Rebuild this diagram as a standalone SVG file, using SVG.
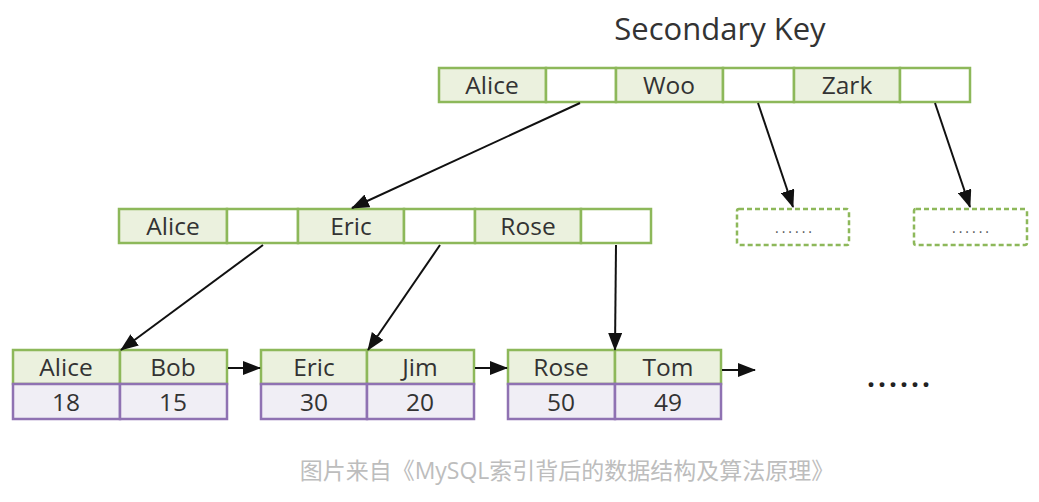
<svg xmlns="http://www.w3.org/2000/svg" width="1039" height="502" viewBox="0 0 1039 502">
<defs>
<style>
.k{fill:#ebf1de;stroke:#8db85a;stroke-width:2.5}
.p{fill:#ffffff;stroke:#8db85a;stroke-width:2.5}
.v{fill:#f0eef5;stroke:#8f72b2;stroke-width:2.5}
.d{fill:#ffffff;stroke:#8db85a;stroke-width:2.5;stroke-dasharray:5 3}
.t{font-family:"Open Sans","Noto Sans",sans-serif;font-size:24.5px;fill:#333;text-anchor:middle;dominant-baseline:central}
.c{stroke:#111;stroke-width:2;fill:none;marker-end:url(#ah)}
.s{font-family:"Open Sans",sans-serif;font-size:14px;fill:#555;text-anchor:middle;letter-spacing:3px}
</style>
<marker id="ah" viewBox="0 0 18 14" refX="17" refY="7" markerWidth="18" markerHeight="14" markerUnits="userSpaceOnUse" orient="auto">
<path d="M0,0 L18,7 L0,14 z" fill="#111"/>
</marker>
</defs>
<rect width="1039" height="502" fill="#ffffff"/>
<text x="720" y="28" font-family="'Open Sans','Noto Sans',sans-serif" font-size="31" fill="#333" text-anchor="middle" dominant-baseline="central">Secondary Key</text>

<g id="root">
<rect class="k" x="439" y="68" width="107" height="34"/>
<rect class="p" x="546" y="68" width="70" height="34"/>
<rect class="k" x="616" y="68" width="107" height="34"/>
<rect class="p" x="723" y="68" width="71" height="34"/>
<rect class="k" x="794" y="68" width="106" height="34"/>
<rect class="p" x="900" y="68" width="70" height="34"/>
<text class="t" x="492" y="84">Alice</text>
<text class="t" x="669" y="84">Woo</text>
<text class="t" x="847" y="84">Zark</text>
</g>

<g id="mid">
<rect class="k" x="119" y="209" width="108" height="34"/>
<rect class="p" x="227" y="209" width="71" height="34"/>
<rect class="k" x="298" y="209" width="106" height="34"/>
<rect class="p" x="404" y="209" width="71" height="34"/>
<rect class="k" x="475" y="209" width="106" height="34"/>
<rect class="p" x="581" y="209" width="70" height="34"/>
<text class="t" x="173" y="225">Alice</text>
<text class="t" x="351" y="225">Eric</text>
<text class="t" x="528" y="225">Rose</text>
</g>

<g id="dash1">
<rect class="d" x="737" y="209" width="112" height="36" rx="2"/>
<text class="s" x="795" y="233">......</text>
</g>
<g id="dash2">
<rect class="d" x="914" y="209" width="113" height="36" rx="2"/>
<text class="s" x="972" y="233">......</text>
</g>

<g id="leaf1">
<rect class="k" x="13" y="350" width="107" height="34"/>
<rect class="k" x="120" y="350" width="107" height="34"/>
<rect class="v" x="13" y="384" width="107" height="35"/>
<rect class="v" x="120" y="384" width="107" height="35"/>
<text class="t" x="66" y="366">Alice</text>
<text class="t" x="173" y="366">Bob</text>
<text class="t" x="66" y="401">18</text>
<text class="t" x="173" y="401">15</text>
</g>
<g id="leaf2">
<rect class="k" x="261" y="350" width="106" height="34"/>
<rect class="k" x="367" y="350" width="107" height="34"/>
<rect class="v" x="261" y="384" width="106" height="35"/>
<rect class="v" x="367" y="384" width="107" height="35"/>
<text class="t" x="314" y="366">Eric</text>
<text class="t" x="420" y="366">Jim</text>
<text class="t" x="314" y="401">30</text>
<text class="t" x="420" y="401">20</text>
</g>
<g id="leaf3">
<rect class="k" x="508" y="350" width="107" height="34"/>
<rect class="k" x="615" y="350" width="106" height="34"/>
<rect class="v" x="508" y="384" width="107" height="35"/>
<rect class="v" x="615" y="384" width="106" height="35"/>
<text class="t" x="561" y="366">Rose</text>
<text class="t" x="668" y="366">Tom</text>
<text class="t" x="561" y="401">50</text>
<text class="t" x="668" y="401">49</text>
</g>

<text x="900" y="387" font-family="'Open Sans',sans-serif" font-size="28" fill="#222" text-anchor="middle" font-weight="bold" letter-spacing="3">......</text>

<g id="connectors">
<line class="c" x1="580" y1="103" x2="352" y2="208"/>
<line class="c" x1="758" y1="103" x2="793" y2="207"/>
<line class="c" x1="935" y1="103" x2="970" y2="207"/>
<line class="c" x1="263" y1="245" x2="121" y2="350"/>
<line class="c" x1="440" y1="245" x2="368" y2="350"/>
<line class="c" x1="616" y1="245" x2="615" y2="350"/>
<line class="c" x1="228" y1="368" x2="260" y2="368"/>
<line class="c" x1="475" y1="368" x2="507" y2="368"/>
<line class="c" x1="722" y1="370" x2="755" y2="370"/>
</g>

<text x="567" y="470" font-family="'Open Sans','Noto Sans CJK SC',sans-serif" font-size="23" fill="#bdbdbd" text-anchor="middle" dominant-baseline="central">图片来自《MySQL索引背后的数据结构及算法原理》</text>
</svg>
